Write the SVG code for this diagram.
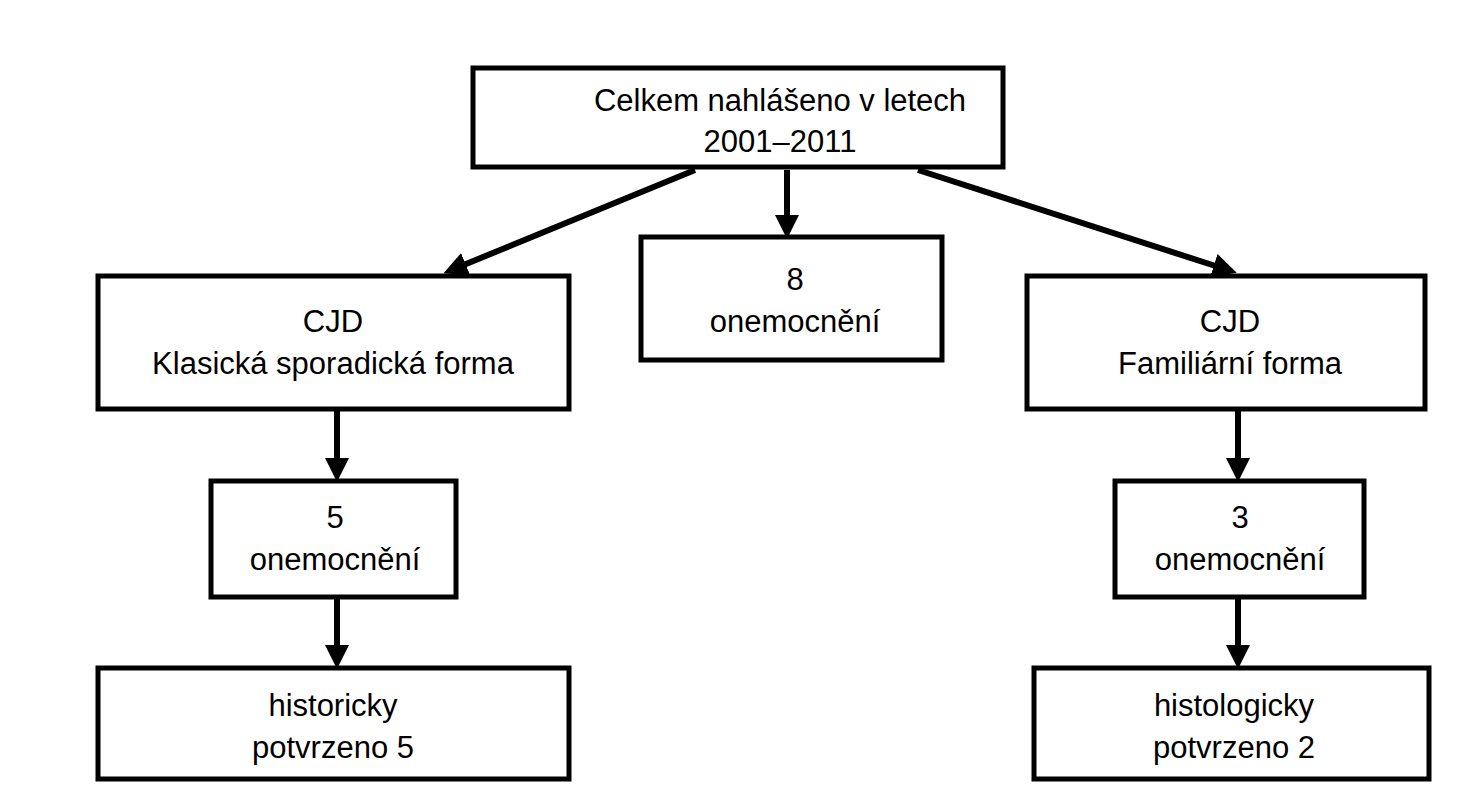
<svg xmlns="http://www.w3.org/2000/svg" width="1461" height="800" viewBox="0 0 1461 800">
<style>
.b{fill:#fff;stroke:#000;stroke-width:5}
.t{font-family:"Liberation Sans",Arial,sans-serif;font-size:31px;text-anchor:middle;fill:#000}
.c{stroke:#000;stroke-width:6;fill:none;marker-end:url(#a)}
</style>
<defs><marker id="a" markerWidth="4" markerHeight="4" refX="3" refY="2" orient="auto" markerUnits="strokeWidth"><path d="M0,0L4,2L0,4z" fill="#000"/></marker></defs>
<rect width="1461" height="800" fill="#fff"/>
<g id="connectors">
<line class="c" x1="695" y1="170" x2="449" y2="271"/>
<line class="c" x1="787" y1="170" x2="787" y2="233"/>
<line class="c" x1="918" y1="170" x2="1231" y2="271"/>
<line class="c" x1="337" y1="409" x2="337" y2="476"/>
<line class="c" x1="337" y1="597" x2="337" y2="663"/>
<line class="c" x1="1238" y1="409" x2="1238" y2="476"/>
<line class="c" x1="1238" y1="597" x2="1238" y2="663"/>
</g>
<g id="top"><rect class="b" x="473" y="68" width="530" height="99"/><text class="t" x="780" y="111">Celkem nahlášeno v letech</text><text class="t" x="780" y="152">2001–2011</text></g>
<g id="center"><rect class="b" x="641" y="237" width="301" height="123"/><text class="t" x="795" y="290">8</text><text class="t" x="795" y="332">onemocnění</text></g>
<g id="left1"><rect class="b" x="98" y="276" width="471" height="133"/><text class="t" x="333" y="332">CJD</text><text class="t" x="333" y="374">Klasická sporadická forma</text></g>
<g id="right1"><rect class="b" x="1027" y="276" width="398" height="133"/><text class="t" x="1230" y="332">CJD</text><text class="t" x="1230" y="374">Familiární forma</text></g>
<g id="left2"><rect class="b" x="211" y="481" width="245" height="116"/><text class="t" x="335" y="528">5</text><text class="t" x="335" y="570">onemocnění</text></g>
<g id="right2"><rect class="b" x="1115" y="481" width="249" height="116"/><text class="t" x="1240" y="528">3</text><text class="t" x="1240" y="570">onemocnění</text></g>
<g id="left3"><rect class="b" x="98" y="668" width="471" height="111"/><text class="t" x="333" y="716">historicky</text><text class="t" x="333" y="758">potvrzeno 5</text></g>
<g id="right3"><rect class="b" x="1034" y="668" width="395" height="111"/><text class="t" x="1234" y="716">histologicky</text><text class="t" x="1234" y="758">potvrzeno 2</text></g>
</svg>
